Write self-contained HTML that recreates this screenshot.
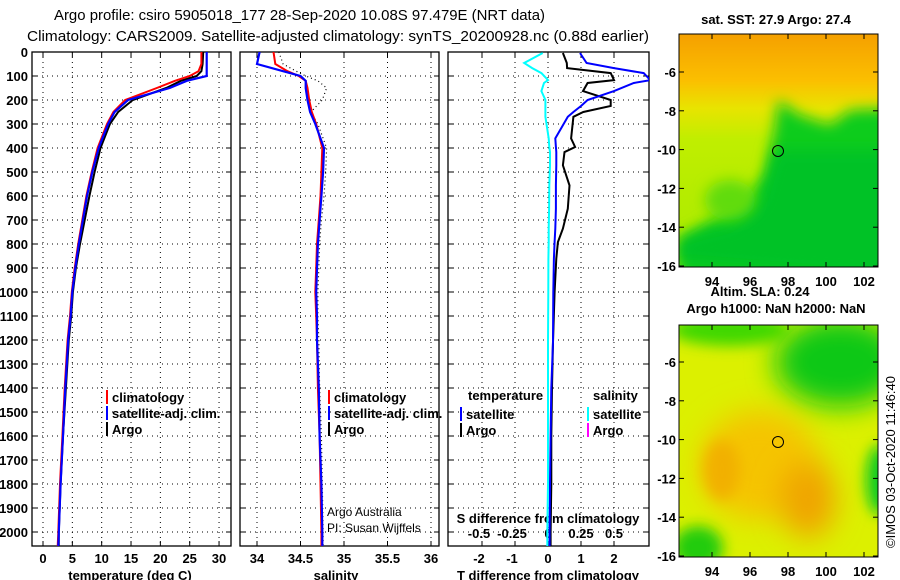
<!DOCTYPE html>
<html><head><meta charset="utf-8"><style>
html,body{margin:0;padding:0;background:#fff;}
svg{display:block;font-family:"Liberation Sans Narrow","Liberation Sans",sans-serif;}
.b{font-weight:bold;}
</style></head><body>
<svg id="fig" width="900" height="580" viewBox="0 0 900 580" xmlns="http://www.w3.org/2000/svg">
<defs>
<clipPath id="c1"><rect x="32" y="52" width="199" height="494"/></clipPath>
<clipPath id="c2"><rect x="240" y="52" width="199" height="494"/></clipPath>
<clipPath id="c3"><rect x="448" y="52" width="201" height="494"/></clipPath>
<clipPath id="m1"><rect x="679" y="34" width="199" height="233"/></clipPath>
<clipPath id="m2"><rect x="679" y="325" width="199" height="232"/></clipPath>
<filter id="bl" filterUnits="userSpaceOnUse" x="550" y="-100" width="450" height="800"><feGaussianBlur stdDeviation="7"/></filter>
<filter id="bl2" filterUnits="userSpaceOnUse" x="550" y="-100" width="450" height="800"><feGaussianBlur stdDeviation="14"/></filter>
<linearGradient id="sstg" x1="0" y1="0" x2="0" y2="1">
<stop offset="0" stop-color="#f5a000"/><stop offset="0.2" stop-color="#fbbf00"/><stop offset="0.32" stop-color="#e8e400"/><stop offset="0.45" stop-color="#c0ee00"/><stop offset="1" stop-color="#a8ea00"/>
</linearGradient>
</defs>
<text x="54" y="20" font-size="15" textLength="491" lengthAdjust="spacingAndGlyphs">Argo profile: csiro 5905018_177 28-Sep-2020 10.08S 97.479E (NRT data)</text>
<text x="27" y="41" font-size="15" textLength="622" lengthAdjust="spacingAndGlyphs">Climatology: CARS2009. Satellite-adjusted climatology: synTS_20200928.nc (0.88d earlier)</text>

<!-- top map -->
<g clip-path="url(#m1)">
  <rect x="679" y="34" width="199" height="233" fill="url(#sstg)"/>
  <polygon points="775,125 778,100 800,115 830,125 850,110 900,108 900,280 679,280 679,240 720,215 745,200 765,175" fill="#10cc1a" filter="url(#bl)"/>
  <polygon points="679,262 679,240 700,232 730,225 760,200 775,150 800,150 900,150 900,280" fill="#00c228" filter="url(#bl)"/>
  <ellipse cx="730" cy="200" rx="25" ry="20" fill="#60dc10" filter="url(#bl)"/>
</g>
<rect x="679" y="34" width="199" height="233" fill="none" stroke="#000"/>
<circle cx="778" cy="151" r="5.5" fill="none" stroke="#000"/>
<text x="776" y="24" font-size="13" class="b" text-anchor="middle">sat. SST: 27.9 Argo: 27.4</text>
<text x="760" y="296" font-size="13" class="b" text-anchor="middle">Altim. SLA: 0.24</text>
<!-- bottom map -->
<g clip-path="url(#m2)">
  <rect x="679" y="325" width="199" height="232" fill="#dcf000"/>
  <ellipse cx="840" cy="362" rx="65" ry="45" fill="#10c818" filter="url(#bl2)"/>
  <ellipse cx="730" cy="330" rx="60" ry="16" fill="#40d800" filter="url(#bl)"/>
  <ellipse cx="760" cy="465" rx="60" ry="55" fill="#f5c400" filter="url(#bl2)"/>
  <ellipse cx="808" cy="500" rx="28" ry="38" fill="#f0a400" filter="url(#bl2)"/>
  <ellipse cx="722" cy="470" rx="18" ry="30" fill="#f2b000" filter="url(#bl)"/>
  <ellipse cx="698" cy="548" rx="25" ry="22" fill="#20cc10" filter="url(#bl)"/>
  <ellipse cx="880" cy="480" rx="14" ry="35" fill="#10cc20" filter="url(#bl)"/>
</g>
<rect x="679" y="325" width="199" height="232" fill="none" stroke="#000"/>
<circle cx="778" cy="442" r="5.5" fill="none" stroke="#000"/>
<text x="776" y="313" font-size="13" class="b" text-anchor="middle">Argo h1000: NaN h2000: NaN</text>
<text transform="translate(895,462) rotate(-90)" font-size="13" text-anchor="middle">©IMOS 03-Oct-2020 11:46:40</text>
<g id="maxes"></g>
<g id="plots"></g>
</svg>
<script>
// ---- data ----
const depthTicks=[0,100,200,300,400,500,600,700,800,900,1000,1100,1200,1300,1400,1500,1600,1700,1800,1900,2000];
const tempTicks=[0,5,10,15,20,25,30];
const salTicks=[34,34.5,35,35.5,36];
const tdTicks=[-2,-1,0,1,2];
const sdTicks=[-0.5,-0.25,0,0.25,0.5];
const latTicks=[-6,-8,-10,-12,-14,-16];
const lonTicks=[94,96,98,100,102];
const depth=[0,50,80,100,120,150,200,250,300,400,500,600,700,800,900,1000,1100,1200,1400,1600,1800,2000,2060];
const tempClim=[27.0,27.0,26.5,25.0,22.5,19.4,14.0,12.0,10.9,9.3,8.3,7.4,6.7,6.0,5.4,4.9,4.6,4.2,3.7,3.3,2.9,2.6,2.5];
const tempSat=[27.9,27.9,27.9,27.9,24.5,21.6,14.5,12.2,11.1,9.5,8.4,7.5,6.8,6.1,5.5,5.0,4.7,4.3,3.8,3.4,3.0,2.7,2.6];
const tempArgo=[27.3,27.2,27.0,26.2,23.5,21.0,15.3,12.8,11.4,9.8,8.8,7.9,7.1,6.3,5.6,5.1,4.8,4.4,3.9,3.4,3.0,2.7,2.7];
const salClim=[34.19,34.21,34.35,34.48,34.56,34.58,34.60,34.63,34.68,34.75,34.74,34.73,34.71,34.69,34.68,34.67,34.68,34.69,34.70,34.72,34.73,34.74,34.74];
const salSat=[34.03,34.00,34.30,34.50,34.56,34.56,34.58,34.61,34.67,34.77,34.76,34.74,34.72,34.70,34.69,34.68,34.69,34.69,34.71,34.72,34.74,34.75,34.75];
const salArgo=[34.25,34.30,34.45,34.56,34.70,34.80,34.75,34.62,34.70,34.80,34.79,34.77,34.74,34.72,34.71,34.70,34.70,34.71,34.72,34.74,34.75,34.76,34.76];
const dDepth=[4,46,67,88,117,129,163,200,225,250,270,360,396,417,472,556,653,736,792,861,1000,1208,1400,1600,1800,2000,2060];
const tDiffArgo=[0.45,0.57,0.58,1.9,2.0,1.2,1.06,1.9,1.9,1.07,0.77,0.7,0.82,0.5,0.45,0.65,0.6,0.45,0.3,0.25,0.2,0.15,0.12,0.1,0.1,0.08,0.08];
const tDiffSat=[0.97,1.17,2.0,2.9,3.1,2.6,2.0,1.2,1.0,0.77,0.6,0.22,0.24,0.25,0.25,0.24,0.24,0.22,0.2,0.18,0.16,0.15,0.1,0.08,0.06,0.05,0.05];
const sDiffSat=[-0.04,-0.18,-0.12,-0.05,0.0,-0.03,-0.05,-0.02,-0.02,-0.02,-0.02,0.005,0.01,0.015,0.015,0.01,0.008,0.005,0.005,0.003,0.002,0.0,0.0,0.0,0.0,-0.005,-0.005];

// ---- scales ----
const Y=d=>52+d*0.24;
const XT=t=>43+t*5.868;
const XS=s=>257+(s-34)*87;
const XD=v=>548+v*33;
const XSD=v=>548+v*132;
const LAT1=l=>72+(-6-l)*19.4, LAT2=l=>362+(-6-l)*19.4, LON=l=>712+(l-94)*19;

const NS="http://www.w3.org/2000/svg";
const plots=document.getElementById('plots');
function mk(tag,at,parent){const e=document.createElementNS(NS,tag);for(const k in at)e.setAttribute(k,at[k]);(parent||plots).appendChild(e);return e;}
function txt(s,x,y,size,anchor,bold,parent){const e=mk('text',{x:x,y:y,'font-size':size,'text-anchor':anchor||'start'},parent);if(bold)e.setAttribute('class','b');e.textContent=s;return e;}

const panels=[{x0:32,x1:231,clip:'c1',name:'temperature-panel'},{x0:240,x1:439,clip:'c2',name:'salinity-panel'},{x0:448,x1:649,clip:'c3',name:'difference-panel'}];
const xgrids=[tempTicks.map(XT),salTicks.map(XS),tdTicks.map(XD)];
panels.forEach((p,i)=>{
  const g=mk('g',{});
  
  
  depthTicks.forEach(d=>{
    const l=mk('line',{x1:p.x0,x2:p.x1,y1:Y(d),y2:Y(d),stroke:'#000','stroke-dasharray':'1,4'},g);
    
    
    mk('line',{x1:p.x0,x2:p.x0+5,y1:Y(d),y2:Y(d),stroke:'#000'},g);
    mk('line',{x1:p.x1-5,x2:p.x1,y1:Y(d),y2:Y(d),stroke:'#000'},g);
  });
  xgrids[i].forEach(x=>{
    const l=mk('line',{x1:x,x2:x,y1:52,y2:546,stroke:'#000','stroke-dasharray':'1,4'},g);
    
    
    mk('line',{x1:x,x2:x,y1:52,y2:57,stroke:'#000'},g);
    mk('line',{x1:x,x2:x,y1:541,y2:546,stroke:'#000'},g);
  });
  const r=mk('rect',{x:p.x0,y:52,width:p.x1-p.x0,height:494,fill:'none',stroke:'#000','stroke-width':1.3},g);
  
  
});
depthTicks.forEach(d=>{
  const t=txt(String(d),28,Y(d)+5,13,'end',true);
  
  
});
tempTicks.forEach(v=>{const t=txt(String(v),XT(v),563,13,'middle',true);});
salTicks.forEach(v=>{const t=txt(String(v),XS(v),563,13,'middle',true);});
tdTicks.forEach(v=>{const t=txt(String(v),XD(v)-(v<0?3:0),563,13,'middle',true);});
sdTicks.forEach(v=>{const t=txt(String(v),XSD(v)-(v<0?3:0),538,13,'middle',true);});
let t;
t=txt('temperature (deg C)',130,580,13,'middle',true);
t=txt('salinity',336,580,13,'middle',true);
t=txt('T difference from climatology',548,580,13,'middle',true);
t=txt('S difference from climatology',548,523,13,'middle',true);
t=txt('Argo Australia',327,516,12,'start',false);
t=txt('PI: Susan Wijffels',327,532,12,'start',false);

const ma=document.getElementById('maxes');
[[LAT1,34,267,286],[LAT2,325,557,576]].forEach(([LAT,y0,y1,ly])=>{
  latTicks.forEach(l=>{
    const yy=LAT(l);
    mk('line',{x1:679,x2:684,y1:yy,y2:yy,stroke:'#000'},ma);
    mk('line',{x1:873,x2:878,y1:yy,y2:yy,stroke:'#000'},ma);
    const e=txt(String(l),676,yy+5,13,'end',true,ma);
    
    
  });
  lonTicks.forEach(l=>{
    const xx=LON(l);
    mk('line',{x1:xx,x2:xx,y1:y0,y2:y0+5,stroke:'#000'},ma);
    mk('line',{x1:xx,x2:xx,y1:y1-5,y2:y1,stroke:'#000'},ma);
    const e=txt(String(l),xx,ly,13,'middle',true,ma);
    
    
  });
});

function line(xs,ys,X,color,clip,name,w,dash){
  const pts=xs.map((v,i)=>X(v).toFixed(1)+','+Y(ys[i]).toFixed(1)).join(' ');
  const e=mk('polyline',{points:pts,fill:'none',stroke:color,'stroke-width':w||2,'clip-path':'url(#'+clip+')'});
  if(dash)e.setAttribute('stroke-dasharray',dash);
  
  
}
line(tempArgo,depth,XT,'#000','c1','temp-argo-line',2);
line(tempClim,depth,XT,'#f00','c1','temp-climatology-line',2);
line(tempSat,depth,XT,'#00f','c1','temp-satellite-line',2.2);
line(salArgo,depth,XS,'#000','c2','sal-argo-line',1.2,'1,3');
line(salClim,depth,XS,'#f00','c2','sal-climatology-line',2);
line(salSat,depth,XS,'#00f','c2','sal-satellite-line',2.2);
line(tDiffArgo,dDepth,XD,'#000','c3','t-diff-argo-line',2);
line(tDiffSat,dDepth,XD,'#00f','c3','t-diff-satellite-line',2);
line(sDiffSat,dDepth,XSD,'#0ff','c3','s-diff-satellite-line',2);

function leg(x,y,color,label,name){
  mk('line',{x1:x,x2:x,y1:y-7,y2:y+7,stroke:color,'stroke-width':2});
  const e=txt(label,x+5,y+5,13,'start',true);
  
  
}
leg(107,397,'#f00','climatology','legend-climatology');
leg(107,413,'#00f','satellite-adj. clim.','legend-satellite');
leg(107,429,'#000','Argo','legend-argo');
leg(329,397,'#f00','climatology','legend-sal-climatology');
leg(329,413,'#00f','satellite-adj. clim.','legend-sal-satellite');
leg(329,429,'#000','Argo','legend-sal-argo');
t=txt('temperature',468,400,13,'start',true);
t=txt('salinity',593,400,13,'start',true);
leg(461,414,'#00f','satellite','legend-t-satellite');
leg(461,430,'#000','Argo','legend-t-argo');
leg(588,414,'#0ff','satellite','legend-s-satellite');
leg(588,430,'#f0f','Argo','legend-s-argo');
</script>
</body></html>
